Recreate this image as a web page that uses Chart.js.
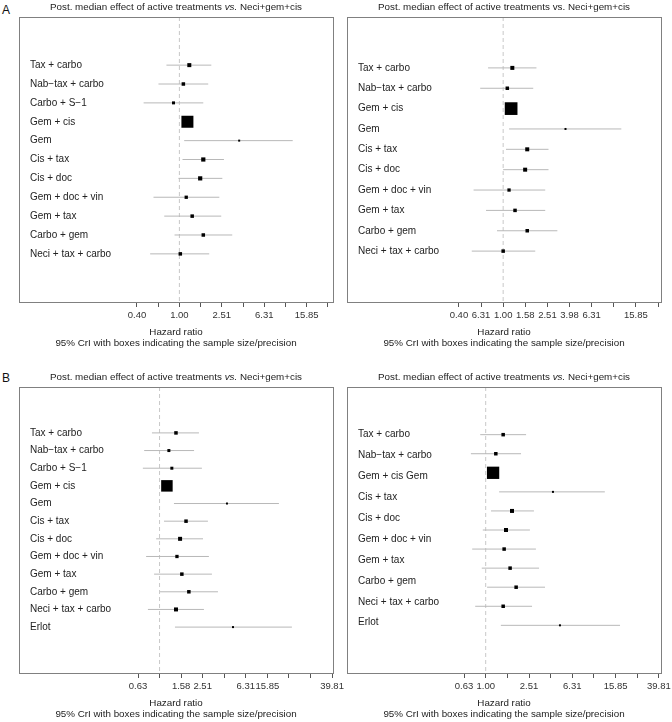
<!DOCTYPE html>
<html>
<head>
<meta charset="utf-8">
<script src="https://cdn.jsdelivr.net/npm/chart.js@4.4.1/dist/chart.umd.min.js"></script>
<style>
  body { margin: 0; background: #fff; }
  #wrap { position: relative; width: 672px; height: 722px; font-family: 'Liberation Sans', Arial, sans-serif; }
  #wrap canvas { position: absolute; }
  .tag { position: absolute; font-size: 12px; color: #111; line-height: 14px; }
</style>
</head>
<body>
<div id="wrap">
  <div class="tag" style="left:2px;top:3px">A</div>
  <div class="tag" style="left:2px;top:371px">B</div>
  <canvas id="a1" width="352" height="361" style="left:0;top:0"></canvas>
  <canvas id="a2" width="336" height="361" style="left:336px;top:0"></canvas>
  <canvas id="b1" width="352" height="352" style="left:0;top:370px"></canvas>
  <canvas id="b2" width="336" height="352" style="left:336px;top:370px"></canvas>
</div>
<script>
// hazard ratios vs. Neci+gem+cis (median and 95% CrI)

// panel A, left
const rowsA1 = ['Tax + carbo', 'Nab\u2212tax + carbo', 'Carbo + S\u22121', 'Gem + cis', 'Gem', 'Cis + tax', 'Cis + doc', 'Gem + doc + vin', 'Gem + tax', 'Carbo + gem', 'Neci + tax + carbo'];
const medA1 = [1.24, 1.09, 0.88, 1.19, 3.66, 1.68, 1.57, 1.16, 1.32, 1.68, 1.02];
const loA1  = [0.755, 0.635, 0.46, 1.12, 1.11, 1.07, 0.98, 0.57, 0.72, 0.90, 0.53];
const hiA1  = [2.00, 1.87, 1.68, 1.26, 11.7, 2.63, 2.54, 2.38, 2.48, 3.15, 1.91];
const precA1 = [4, 3.5, 3, 12, 2, 4.2, 4.2, 3.3, 3.5, 3.5, 3.5];

// panel A, right
const rowsA2 = ['Tax + carbo', 'Nab\u2212tax + carbo', 'Gem + cis', 'Gem', 'Cis + tax', 'Cis + doc', 'Gem + doc + vin', 'Gem + tax', 'Carbo + gem', 'Neci + tax + carbo'];
const medA2 = [1.21, 1.09, 1.18, 3.66, 1.65, 1.58, 1.13, 1.28, 1.65, 1.00];
const loA2  = [0.73, 0.62, 1.11, 1.13, 1.06, 1.00, 0.54, 0.70, 0.88, 0.52];
const hiA2  = [2.00, 1.87, 1.25, 11.7, 2.57, 2.57, 2.40, 2.40, 3.09, 1.95];
const precA2 = [4, 3.5, 12.7, 2, 4, 4, 3.3, 3.5, 3.5, 3.5];

// panel B, left
const rowsB1 = ['Tax + carbo', 'Nab\u2212tax + carbo', 'Carbo + S\u22121', 'Gem + cis', 'Gem', 'Cis + tax', 'Cis + doc', 'Gem + doc + vin', 'Gem + tax', 'Carbo + gem', 'Neci + tax + carbo', 'Erlot'];
const medB1 = [1.42, 1.22, 1.30, 1.17, 4.22, 1.76, 1.55, 1.45, 1.61, 1.87, 1.42, 4.80];
const loB1  = [0.85, 0.72, 0.70, 1.10, 1.36, 1.10, 0.93, 0.75, 0.89, 1.01, 0.78, 1.39];
const hiB1  = [2.32, 2.09, 2.47, 1.25, 12.8, 2.81, 2.53, 2.87, 3.06, 3.48, 2.58, 16.9];
const precB1 = [3.5, 3, 3, 11.5, 2, 3.5, 4, 3.3, 3.5, 3.5, 4, 2];

// panel B, right (row labels and rows do not line up in the original)
const labelsB2 = ['Tax + carbo', 'Nab\u2212tax + carbo', 'Gem + cis Gem', 'Cis + tax', 'Cis + doc', 'Gem + doc + vin', 'Gem + tax', 'Carbo + gem', 'Neci + tax + carbo', 'Erlot'];
const rowsB2 = ['Tax + carbo', 'Nab\u2212tax + carbo', 'Gem + cis', 'Gem', 'Cis + tax', 'Cis + doc', 'Gem + doc + vin', 'Gem + tax', 'Carbo + gem', 'Neci + tax + carbo', 'Erlot'];
const medB2 = [1.45, 1.24, 1.17, 4.18, 1.75, 1.54, 1.48, 1.68, 1.91, 1.45, 4.85];
const loB2  = [0.89, 0.73, 1.10, 1.33, 1.12, 0.94, 0.75, 0.92, 1.03, 0.80, 1.38];
const hiB2  = [2.36, 2.12, 1.25, 12.6, 2.79, 2.56, 2.91, 3.11, 3.53, 2.68, 17.4];
const precB2 = [3.5, 3.5, 12.3, 2, 4, 4, 3.5, 3.5, 3.5, 3.5, 2];

// x ticks (hazard ratio) and the labels as printed
const tickHrA = [0.398, 0.631, 1, 1.585, 2.512, 3.981, 6.310, 10, 15.85, 25.12];
const tickHrB = [0.631, 1, 1.585, 2.512, 3.981, 6.310, 10, 15.85, 25.12, 39.81];
const tickTextA1 = ['0.40', '', '1.00', '', '2.51', '', '6.31', '', '15.85', ''];
const tickTextA2 = ['0.40', '6.31', '1.00', '1.58', '2.51', '3.98', '6.31', '', '15.85', ''];
const tickTextB1 = ['0.63', '', '1.58', '2.51', '', '6.31', '15.85', '', '', '39.81'];
const tickTextB2 = ['0.63', '1.00', '', '2.51', '', '6.31', '', '15.85', '', '39.81'];

const FONT = "'Liberation Sans', Arial, sans-serif";
const titleParts = (italic) => [
  { t: 'Post. median effect of active treatments ' },
  { t: 'vs.', i: italic },
  { t: ' Neci+gem+cis' }
];

// box around the plot area
const framePlugin = {
  id: 'frame',
  afterDraw(chart) {
    const { ctx, chartArea: a } = chart;
    ctx.save();
    ctx.strokeStyle = '#808080';
    ctx.lineWidth = 1;
    ctx.strokeRect(a.left + 0.5, a.top + 0.5, a.right - a.left, a.bottom - a.top);
    ctx.restore();
  }
};

// title with an italic "vs."
const richTitle = {
  id: 'richTitle',
  afterDraw(chart, args, opts) {
    const { ctx, chartArea: a } = chart;
    ctx.save();
    ctx.fillStyle = '#222';
    ctx.textBaseline = 'middle';
    const fontFor = p => (p.i ? 'italic ' : '') + '9.8px ' + FONT;
    let total = 0;
    opts.parts.forEach(p => { ctx.font = fontFor(p); total += ctx.measureText(p.t).width; });
    let x = (a.left + a.right) / 2 - total / 2;
    opts.parts.forEach(p => {
      ctx.font = fontFor(p);
      ctx.fillText(p.t, x, a.top - 10);
      x += ctx.measureText(p.t).width;
    });
    ctx.restore();
  }
};

const lg = v => Math.log10(v);

function makeChart(p) {
  const ciSets = p.med.map((m, i) => ({
    type: 'line',
    data: [{ x: lg(p.lo[i]), y: i }, { x: lg(p.hi[i]), y: i }],
    borderColor: '#b8b8b8',
    borderWidth: 1,
    pointRadius: 0,
    order: 2
  }));
  const refLine = {
    type: 'line',
    data: [{ x: 0, y: p.yMin }, { x: 0, y: p.yMax }],
    borderColor: '#c8c8c8',
    borderWidth: 1,
    borderDash: [4, 3],
    pointRadius: 0,
    order: 3
  };
  const boxes = {
    type: 'scatter',
    data: p.med.map((m, i) => ({ x: lg(m), y: i })),
    pointStyle: 'rect',
    pointRadius: c => p.prec[c.dataIndex] * Math.SQRT1_2,
    backgroundColor: '#000',
    borderWidth: 0,
    order: 1
  };

  new Chart(document.getElementById(p.id), {
    type: 'line',
    data: { datasets: [boxes, ...ciSets, refLine] },
    plugins: [framePlugin, richTitle],
    options: {
      responsive: false,
      animation: false,
      events: [],
      layout: { padding: p.pad, autoPadding: false },
      plugins: {
        legend: { display: false },
        tooltip: { enabled: false },
        richTitle: { parts: titleParts(p.italicVs) }
      },
      scales: {
        x: {
          type: 'linear',
          min: p.xMin,
          max: p.xMax,
          afterBuildTicks: s => { s.ticks = p.ticks.map(v => ({ value: lg(v) })); },
          afterFit: s => { s.height = 47; s.paddingLeft = 0; s.paddingRight = 0; },
          ticks: {
            autoSkip: false,
            maxRotation: 0,
            padding: 3,
            color: '#333',
            font: { family: FONT, size: 9.5 },
            callback: (v, i) => p.tickText[i]
          },
          grid: { drawOnChartArea: false, drawTicks: true, tickLength: 5, color: '#555' },
          border: { display: false },
          title: {
            display: true,
            text: ['Hazard ratio', '95% CrI with boxes indicating the sample size/precision'],
            color: '#222',
            font: { family: FONT, size: 9.8, lineHeight: 1.12 },
            padding: 0
          }
        },
        y: { type: 'linear', display: false, reverse: true, min: p.yMin, max: p.yMax },
        yl: {
          type: 'linear',
          position: 'left',
          reverse: true,
          min: p.lMin,
          max: p.lMax,
          afterBuildTicks: s => { s.ticks = p.labels.map((_, i) => ({ value: i })); },
          afterFit: s => { s.width = 0; s.paddingTop = 0; s.paddingBottom = 0; },
          ticks: {
            mirror: true,
            padding: 11,
            autoSkip: false,
            color: '#222',
            font: { family: FONT, size: 10 },
            callback: (v, i) => p.labels[i]
          },
          grid: { display: false },
          border: { display: false }
        }
      }
    }
  });
}

makeChart({ id: 'a1', labels: rowsA1, med: medA1, lo: loA1, hi: hiA1, prec: precA1,
  ticks: tickHrA, tickText: tickTextA1, italicVs: true,
  xMin: -1.512, xMax: 1.448, yMin: -2.55, yMax: 12.55, lMin: -2.55, lMax: 12.55,
  pad: { left: 19, right: 19, top: 17, bottom: 12 } });

makeChart({ id: 'a2', labels: rowsA2, med: medA2, lo: loA2, hi: hiA2, prec: precA2,
  ticks: tickHrA, tickText: tickTextA2, italicVs: false,
  xMin: -1.412, xMax: 1.427, yMin: -2.5, yMax: 11.5, lMin: -2.5, lMax: 11.5,
  pad: { left: 11, right: 11, top: 17, bottom: 12 } });

makeChart({ id: 'b1', labels: rowsB1, med: medB1, lo: loB1, hi: hiB1, prec: precB1,
  ticks: tickHrB, tickText: tickTextB1, italicVs: true,
  xMin: -1.304, xMax: 1.609, yMin: -2.6, yMax: 13.6, lMin: -2.6, lMax: 13.6,
  pad: { left: 19, right: 19, top: 17, bottom: 2 } });

makeChart({ id: 'b2', labels: labelsB2, med: medB2, lo: loB2, hi: hiB2, prec: precB2,
  ticks: tickHrB, tickText: tickTextB2, italicVs: true,
  xMin: -1.281, xMax: 1.619, yMin: -2.5, yMax: 12.5, lMin: -2.25, lMax: 11.4,
  pad: { left: 11, right: 11, top: 17, bottom: 2 } });
</script>
</body>
</html>
